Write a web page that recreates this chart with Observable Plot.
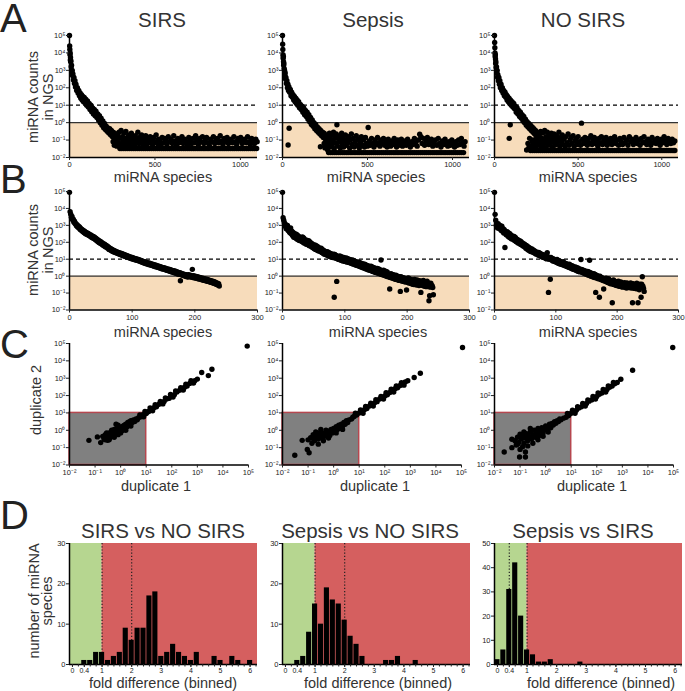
<!DOCTYPE html>
<html><head><meta charset="utf-8">
<script src="https://cdn.jsdelivr.net/npm/d3@7"></script>
<script src="https://cdn.jsdelivr.net/npm/@observablehq/plot@0.6"></script>
<style>
body{margin:0;background:#fff;}
#fig{position:relative;width:685px;height:691px;overflow:hidden;background:#fff;}
</style></head><body><div id="fig"></div>
<script>
// ---------------- DATA ----------------
const groups = ["SIRS", "Sepsis", "NO SIRS"];
const comparisons = ["SIRS vs NO SIRS", "Sepsis vs NO SIRS", "Sepsis vs SIRS"];

// Row A: all miRNA species, [rank, log10 count]
const sirsA_curve = [[0,5.0],[1,4.4],[2,4.2],[3,3.9],[4,4.0],[5,3.6],[6,3.74],[7,3.5],[8,3.55],[10,3.2],[12,3.3],[14,2.9],[16,3.0],[18,2.7],[20,2.8],[23,2.45],[26,2.6],[29,2.25],[32,2.4],[35,2.05],[38,2.2],[42,1.85],[46,2.0],[50,1.7],[54,1.85],[58,1.55],[62,1.7],[66,1.4],[70,1.6],[74,1.3],[78,1.5],[82,1.2],[86,1.45],[90,1.15],[95,1.35],[100,1.0],[105,1.25],[110,0.9],[115,1.1],[120,0.75],[125,1.0],[130,0.62],[135,0.85],[140,0.5],[145,0.75],[150,0.4],[155,0.65],[160,0.3],[165,0.5],[170,0.15],[175,0.4],[180,0.0],[185,0.25],[190,-0.15],[195,0.1],[200,-0.3],[205,-0.05],[210,-0.4],[215,-0.2],[220,-0.5],[225,-0.3],[230,-0.6],[235,-0.35],[240,-0.7],[245,-0.45],[250,-0.8],[255,-0.55],[260,-0.9],[265,-0.6],[270,-1.0],[275,-0.7],[280,-1.1],[255,-1.1],[262,-1.3],[270,-0.95],[276,-1.35]];
const sirsA_tail = [[282,-0.75],[286,-1.15],[290,-0.55],[294,-1.3],[298,-0.9],[302,-0.45],[306,-1.2],[310,-0.8],[314,-1.05],[318,-0.6],[322,-1.35],[326,-0.95],[330,-0.5],[334,-1.15],[338,-0.85],[342,-1.3],[346,-0.7],[350,-1.05],[354,-0.9],[358,-1.25],[362,-0.6],[366,-1.1],[370,-0.8],[375,-1.0],[380,-1.3],[385,-0.75],[390,-1.15],[395,-0.95],[400,-0.55],[405,-1.2],[410,-0.85],[416,-1.05],[422,-0.7],[428,-1.25],[434,-0.9],[440,-1.1],[446,-0.75],[452,-1.3],[458,-0.95],[465,-1.15],[472,-0.8],[479,-1.0],[486,-1.25],[493,-0.85],[500,-1.1],[507,-0.7],[514,-1.2],[521,-0.95],[528,-1.05],[535,-1.3],[542,-0.85],[549,-1.15],[556,-0.9],[563,-1.0],[570,-1.25],[578,-0.8],[586,-1.1],[594,-0.95],[602,-1.2],[610,-0.75],[618,-1.05],[626,-1.3],[634,-0.9],[642,-1.15],[650,-1.0],[658,-0.8],[666,-1.2],[674,-0.95],[682,-1.1],[690,-1.3],[698,-0.85],[706,-1.05],[714,-1.2],[722,-0.9],[730,-1.15],[738,-0.75],[746,-1.0],[754,-1.25],[762,-0.9],[770,-1.1],[778,-0.8],[786,-1.2],[794,-1.0],[802,-0.85],[810,-1.15],[818,-1.3],[826,-0.95],[834,-1.1],[842,-0.8],[850,-1.2],[858,-1.0],[866,-0.9],[874,-1.15],[882,-0.75],[890,-1.05],[898,-1.25],[906,-0.9],[914,-1.1],[922,-0.85],[930,-1.2],[938,-1.0],[946,-0.95],[954,-1.15],[962,-0.8],[970,-1.1],[978,-1.25],[986,-0.9],[994,-1.05],[1002,-0.85],[1010,-1.2],[1018,-1.0],[1026,-0.95],[1034,-1.15],[1042,-0.8],[1050,-1.1],[1058,-1.25],[1066,-0.9],[1074,-1.05],[1082,-1.2],[1090,-0.95],[1098,-1.1]];
const sirsA_floorLog = -1.48;
const sirsA_floorRanks = [295,306,318,329,341,352,364,376,387,399,410,422,434,445,457,468,480,492,503,515,526,538,550,561,573,584,596,608,619,631,642,654,666,677,689,700,712,724,735,747,758,770,782,793,805,816,828,840,851,863,874,886,898,909,921,932,944,956,967,979,990,1002,1014,1025,1037,1048,1060,1072,1083,1095];

const sepsisA_curve = [[0,5.0],[1,4.5],[2,4.2],[3,3.9],[4,3.7],[5,3.8],[6,3.5],[7,3.3],[8,3.4],[10,3.1],[12,3.0],[14,2.7],[16,2.85],[18,2.5],[20,2.6],[23,2.25],[26,2.4],[29,2.0],[32,2.2],[33,-1.28],[35,1.85],[38,2.05],[39,-0.32],[42,1.75],[46,1.9],[50,1.55],[54,1.75],[58,1.45],[62,1.6],[66,1.3],[70,1.5],[74,1.2],[78,1.4],[82,1.1],[86,1.3],[90,1.0],[95,1.2],[100,0.85],[105,1.05],[110,0.75],[115,0.95],[120,0.6],[125,0.85],[130,0.45],[135,0.7],[140,0.35],[145,0.6],[150,0.2],[155,0.45],[160,0.05],[165,0.3],[170,-0.1],[175,0.15],[180,-0.2],[185,0.0],[190,-0.35],[195,-0.1],[200,-0.45],[205,-0.25],[210,-0.55],[215,-0.35],[220,-0.65],[223,-1.38],[225,-0.45],[230,-0.75],[235,-0.55],[240,-0.85],[245,-0.6],[250,-0.9],[255,-0.7],[260,-1.0],[265,-0.75],[245,-1.2],[250,-1.45],[255,-1.0],[260,-1.3],[265,-1.55]];
const sepsisA_tail = [[268,-0.8],[272,-1.2],[276,-0.6],[280,-1.4],[284,-0.95],[288,-0.7],[292,-1.3],[296,-1.05],[300,-0.55],[304,-1.5],[308,-0.85],[312,-1.15],[316,-0.65],[320,-0.12],[324,-1.35],[328,-0.9],[332,-1.1],[336,-0.75],[340,-1.45],[344,-1.0],[348,-0.6],[352,-1.25],[356,-0.85],[360,-1.4],[365,-1.05],[370,-0.7],[375,-1.3],[380,-0.95],[385,-1.15],[390,-0.8],[395,-1.45],[400,-1.0],[405,-0.65],[410,-1.25],[416,-0.9],[422,-1.4],[428,-1.1],[434,-0.75],[440,-1.3],[446,-0.95],[452,-1.45],[458,-1.15],[464,-0.8],[470,-1.3],[476,-1.0],[482,-1.4],[488,-0.85],[494,-1.2],[500,-1.35],[504,-0.28],[510,-1.05],[517,-1.3],[524,-0.9],[531,-1.2],[538,-1.4],[545,-1.0],[552,-1.25],[559,-0.85],[566,-1.15],[573,-1.35],[580,-1.0],[587,-1.2],[594,-0.9],[601,-1.3],[608,-1.1],[615,-1.4],[622,-0.95],[629,-1.2],[636,-1.35],[643,-1.05],[650,-1.25],[657,-0.9],[664,-1.15],[671,-1.4],[678,-1.0],[685,-1.3],[692,-1.1],[699,-0.95],[706,-1.35],[713,-1.2],[720,-1.05],[728,-1.3],[736,-0.95],[744,-1.2],[752,-1.4],[760,-1.1],[768,-1.25],[776,-0.9],[784,-1.15],[792,-1.35],[800,-1.0],[807,-0.67],[814,-0.8],[821,-1.2],[828,-0.9],[836,-1.3],[844,-1.05],[852,-0.85],[860,-1.25],[868,-1.1],[876,-0.95],[884,-1.35],[892,-1.15],[900,-1.0],[908,-1.3],[916,-0.9],[924,-1.2],[932,-1.4],[940,-1.05],[948,-1.25],[956,-0.95],[964,-1.15],[972,-1.35],[980,-1.1],[988,-1.3],[996,-1.0],[1004,-1.2],[1012,-1.4],[1020,-1.1],[1028,-1.3],[1036,-1.0],[1044,-1.25],[1052,-0.9],[1060,-1.15],[1068,-1.35],[1074,-1.1]];
const sepsisA_floorLog = -1.72;
const sepsisA_floorRanks = [271,283,294,306,317,329,340,352,363,375,386,398,409,421,432,444,455,467,478,490,501,513,524,536,547,559,570,582,593,605,616,628,639,651,662,674,685,697,708,720,731,743,754,766,777,789,800,812,823,835,846,858,869,881,892,904,915,927,938,950,961,973,984,996,1007,1019,1030,1042,1053,1065];

const nosirsA_curve = [[0,5.0],[1,4.6],[2,4.3],[3,4.0],[4,3.8],[5,3.9],[6,3.65],[7,3.4],[8,3.5],[10,3.16],[12,3.2],[14,2.85],[16,3.0],[18,2.6],[20,2.75],[23,2.4],[26,2.6],[29,2.2],[32,2.4],[35,2.0],[39,2.2],[43,1.85],[47,2.0],[51,1.7],[55,1.85],[59,1.55],[63,1.75],[67,1.45],[71,1.6],[75,1.3],[79,1.5],[83,1.2],[87,1.4],[88,-0.9],[91,1.1],[94,-0.12],[95,1.3],[100,1.0],[105,1.2],[110,0.9],[115,1.1],[120,0.8],[125,0.95],[130,0.6],[135,0.85],[140,0.5],[145,0.7],[150,0.35],[155,0.6],[160,0.25],[165,0.45],[170,0.1],[175,0.35],[180,0.0],[185,0.2],[190,-0.15],[192,-1.57],[195,0.05],[200,-0.25],[205,-0.05],[210,-0.35],[215,-0.15],[220,-0.45],[225,-0.25],[230,-0.55],[235,-0.35],[240,-0.65],[245,-0.45],[250,-0.75],[255,-0.55],[260,-0.85],[265,-0.6],[200,-1.2],[205,-1.45],[210,-0.9],[220,-1.35],[225,-1.1],[230,-1.0],[240,-1.25],[245,-1.4],[250,-0.95],[255,-1.15],[260,-1.3]];
const nosirsA_tail = [[268,-0.7],[272,-1.1],[276,-0.5],[280,-1.35],[284,-0.9],[288,-0.6],[292,-1.25],[296,-1.0],[300,-0.45],[304,-1.45],[308,-0.8],[312,-1.15],[316,-0.55],[320,-1.3],[324,-0.95],[328,-0.7],[332,-1.2],[336,-1.05],[340,-0.6],[344,-1.4],[348,-0.85],[352,-1.1],[356,-0.65],[360,-1.3],[365,-0.95],[370,-0.75],[375,-1.2],[380,-1.0],[385,-0.55],[390,-1.35],[395,-0.85],[400,-1.1],[405,-0.7],[410,-1.25],[416,-0.95],[422,-1.4],[428,-0.8],[434,-1.15],[440,-0.65],[446,-1.3],[452,-1.0],[458,-0.85],[464,-1.2],[470,-0.75],[476,-1.35],[482,-1.05],[488,-0.9],[494,-1.25],[500,-0.8],[507,-1.1],[514,-1.3],[520,-0.03],[527,-0.95],[534,-1.2],[541,-0.85],[548,-1.05],[555,-1.3],[562,-0.9],[569,-1.15],[576,-0.75],[583,-1.25],[590,-1.0],[597,-0.85],[604,-1.2],[611,-1.05],[618,-1.35],[625,-0.9],[632,-1.15],[639,-0.8],[646,-1.25],[653,-1.0],[660,-1.1],[667,-0.85],[674,-1.3],[681,-1.0],[688,-1.15],[695,-0.9],[702,-1.25],[710,-1.05],[718,-0.8],[726,-1.2],[734,-1.0],[742,-1.3],[750,-0.9],[758,-1.1],[766,-1.25],[774,-0.85],[782,-1.15],[790,-1.0],[798,-1.3],[806,-0.8],[814,-1.1],[822,-0.95],[830,-1.25],[838,-1.05],[846,-0.85],[854,-1.2],[862,-1.0],[870,-1.3],[878,-0.9],[886,-1.15],[894,-0.8],[902,-1.1],[910,-1.25],[918,-0.95],[926,-1.05],[934,-1.3],[942,-0.85],[950,-1.15],[958,-1.0],[966,-1.2],[974,-0.9],[982,-1.1],[990,-1.3],[998,-0.95],[1006,-1.15],[1014,-0.8],[1022,-1.05],[1030,-1.25],[1038,-0.9],[1046,-1.1],[1054,-1.2],[1062,-0.95],[1070,-1.15],[1078,-1.05]];
const nosirsA_floorLog = -1.60;
const nosirsA_floorRanks = [215,227,239,251,263,275,287,299,311,323,335,347,359,371,383,395,407,419,431,443,455,467,479,491,503,515,527,539,551,563,575,587,599,611,623,635,647,659,671,683,695,707,719,731,743,755,767,779,791,803,815,827,839,851,863,875,887,899,911,923,935,947,959,971,983,995,1007,1019,1031,1043,1055,1067,1078];

// Row B: detected miRNA species, log10 count by rank (index = rank)
const sirsB = [4.95,3.80,3.66,3.48,3.52,3.33,3.37,3.18,3.24,3.10,
3.12,2.98,3.04,2.90,2.96,2.84,2.90,2.76,2.82,2.70,
2.76,2.64,2.70,2.58,2.65,2.52,2.60,2.48,2.55,2.44,
2.52,2.40,2.47,2.36,2.43,2.30,2.38,2.26,2.34,2.22,
2.30,2.16,2.24,2.10,2.18,2.04,2.13,1.99,2.08,1.95,
2.03,1.90,1.97,1.84,1.92,1.80,1.88,1.74,1.83,1.70,
1.78,1.65,1.72,1.58,1.66,1.54,1.62,1.50,1.57,1.46,
1.53,1.43,1.50,1.40,1.46,1.36,1.43,1.33,1.40,1.31,
1.37,1.28,1.35,1.25,1.32,1.22,1.29,1.19,1.26,1.16,
1.24,1.14,1.21,1.11,1.18,1.08,1.15,1.06,1.12,1.03,
1.10,1.01,1.08,0.99,1.05,0.96,1.03,0.94,1.00,0.92,
0.98,0.89,0.95,0.86,0.92,0.83,0.90,0.80,0.87,0.78,
0.85,0.75,0.83,0.73,0.80,0.70,0.78,0.68,0.76,0.66,
0.74,0.64,0.71,0.61,0.69,0.59,0.66,0.56,0.64,0.54,
0.62,0.52,0.59,0.49,0.57,0.47,0.55,0.44,0.52,0.42,
0.50,0.40,0.48,0.38,0.45,0.35,0.43,0.33,0.41,0.30,
0.39,0.28,0.36,0.25,0.34,0.23,0.32,0.20,0.30,0.18,
0.27,0.16,0.25,0.13,0.22,0.11,0.20,-0.27,0.17,0.07,
0.15,0.05,0.12,0.02,0.10,0.00,0.08,-0.03,0.05,-0.05,
0.08,-0.02,0.06,-0.04,0.04,-0.06,0.40,-0.08,0.02,-0.10,
0.00,-0.11,-0.02,-0.13,-0.04,-0.15,-0.06,-0.17,-0.08,-0.19,
-0.10,-0.21,-0.12,-0.23,-0.14,-0.25,-0.16,-0.27,-0.18,-0.29,
-0.20,-0.31,-0.22,-0.33,-0.25,-0.36,-0.27,-0.38,-0.30,-0.41,
-0.32,-0.43,-0.35,-0.46,-0.38,-0.49,-0.41,-0.52,-0.45,-0.58];
const sepsisB = [4.95,3.45,3.30,3.16,2.95,3.05,2.80,2.86,3.00,2.70,
2.80,2.62,2.57,2.85,2.50,2.66,2.40,2.58,2.30,2.52,
2.37,2.25,2.48,2.20,2.42,2.15,2.35,2.10,2.30,2.22,
2.18,2.05,2.32,2.00,2.25,1.95,2.15,2.05,1.88,2.12,
1.98,1.85,2.10,1.80,2.02,1.78,1.95,1.72,1.90,1.68,
1.78,1.62,1.85,1.58,1.80,1.55,1.75,1.50,1.70,1.48,
1.59,1.45,1.65,1.40,1.58,1.35,1.52,1.30,1.48,1.28,
1.39,1.25,1.45,1.22,1.40,1.18,1.35,1.15,1.32,1.12,
1.25,1.10,1.30,-1.25,1.28,1.05,1.22,-0.31,1.18,1.00,
1.14,0.98,1.20,0.95,1.15,0.92,1.12,0.90,1.10,0.88,
1.06,0.86,1.08,0.84,1.05,0.82,1.00,0.80,0.98,0.78,
0.94,0.75,0.96,0.72,0.92,0.70,0.88,0.66,0.85,0.64,
0.80,0.62,0.84,0.58,0.80,0.56,0.76,0.52,0.74,0.50,
0.71,0.48,0.70,0.44,0.66,0.42,0.62,0.38,0.60,0.36,
0.51,0.34,0.58,0.30,0.55,0.28,0.50,0.25,0.48,0.22,
0.41,0.20,0.45,0.18,0.42,0.15,0.40,0.12,0.95,0.10,
0.31,0.08,0.35,0.05,0.30,0.02,0.28,0.00,0.25,-0.03,
0.12,-0.05,-0.76,-0.08,0.15,-0.10,0.10,-0.12,0.08,-0.15,
0.02,-0.18,0.05,-0.20,0.00,-0.22,-0.02,-0.25,-0.05,-0.90,
-0.04,-0.28,-0.08,-0.30,-0.10,-0.32,-0.12,-0.35,-0.15,-0.82,
-0.14,-0.38,-0.10,-0.40,-0.18,-0.42,-0.20,-0.45,-0.22,-0.48,
-0.24,-0.50,-0.20,-0.46,-0.26,-0.52,-0.22,-0.48,-0.28,-0.55,
-0.27,-0.52,-0.96,-0.50,-0.30,-0.55,-0.25,-0.58,-0.32,-0.60,
-0.37,-0.62,-0.30,-0.58,-0.40,-1.45,-1.16,-0.65,-0.42,-0.55,
-0.57,-0.67,-1.10];
const nosirsB = [4.95,3.65,3.30,3.00,3.06,2.85,3.10,2.95,2.80,3.00,
2.86,2.70,2.95,2.65,2.80,2.55,2.75,1.69,2.60,2.45,
2.47,2.62,2.35,2.55,2.30,2.50,2.25,2.42,2.20,2.38,
2.27,2.15,2.35,2.10,2.28,2.05,2.20,2.00,2.15,1.95,
1.98,2.10,1.88,2.05,1.85,1.98,1.80,1.92,1.75,1.88,
1.78,1.65,1.82,1.60,1.75,1.55,1.70,1.50,1.65,1.45,
1.49,1.60,1.42,1.55,1.38,1.50,1.35,1.45,1.30,1.42,
1.33,1.25,1.40,1.22,1.35,1.20,1.30,1.15,1.28,1.12,
1.20,1.10,1.25,1.05,1.22,1.02,1.39,1.15,-0.96,1.00,
1.06,-0.18,1.10,0.95,1.05,0.90,1.02,0.88,0.98,0.85,
0.94,0.82,0.98,0.78,0.92,0.75,0.90,0.72,0.85,0.70,
0.80,0.68,0.85,0.65,0.78,0.62,0.75,0.58,0.72,0.55,
0.67,0.52,0.70,0.50,0.65,0.46,0.62,0.42,0.58,0.40,
0.51,0.38,0.55,0.35,0.50,0.30,0.48,0.28,0.44,0.25,
0.35,0.98,0.40,0.22,0.36,0.18,0.32,0.15,0.30,0.12,
0.22,0.10,0.28,0.05,0.25,0.94,0.20,0.00,0.18,-0.02,
0.12,-0.05,0.15,-0.08,0.10,-0.96,0.05,-0.12,0.02,-0.15,
-0.04,-1.25,0.00,-0.20,-0.08,-0.22,-0.10,-0.25,-0.76,-0.28,
-0.18,-0.30,-0.12,-0.35,-0.20,-0.38,-0.15,-0.40,-0.25,-0.45,
-0.27,-0.42,-1.57,-0.48,-0.22,-0.50,-0.30,-0.52,-0.35,-0.55,
-0.37,-0.55,-0.30,-0.60,-0.40,-0.58,-0.35,-0.62,-0.42,-0.65,
-0.43,-0.60,-0.38,-0.65,-0.45,-0.70,-0.40,-0.62,-0.48,-0.68,
-0.47,-0.65,-0.40,-0.70,-0.50,-1.57,-0.45,-0.72,-0.52,-0.68,
-0.51,-0.75,-0.42,-0.70,-1.57,-0.55,-0.80,-0.48,-0.65,-1.25,
-0.47,-0.04,-0.60,-0.72,-0.90];

// Row C: duplicate 1 vs duplicate 2, [log10 dup1, log10 dup2]
const sirsC = [[-1.24,-0.58],[-0.91,-0.38],[-0.78,-0.71],[-0.51,-0.58],[-0.7,-0.35],[-0.65,-0.5],[-0.6,-0.25],[-0.55,-0.4],[-0.5,-0.3],[-0.45,-0.15],[-0.42,-0.45],[-0.4,-0.2],[-0.35,-0.35],[-0.3,-0.1],[-0.28,-0.3],[-0.25,0.05],[-0.2,-0.2],[-0.18,0.35],[-0.15,-0.05],[-0.1,-0.25],[-0.08,0.1],[-0.05,-0.1],[0.0,0.15],[0.02,-0.05],[0.05,0.2],[0.08,0.0],[0.1,0.25],[0.12,0.05],[0.15,0.3],[0.18,0.15],[0.2,0.35],[0.25,0.2],[0.28,0.45],[0.3,0.3],[0.35,0.5],[0.38,0.35],[0.4,0.55],[0.45,0.45],[0.5,0.6],[0.55,0.5],[0.6,0.65],[-0.55,-0.15],[-0.35,0.0],[-0.15,0.1],[0.0,-0.15],[-0.6,-0.55],[-0.45,-0.55],[-0.25,-0.4],[-0.1,0.3],[0.2,0.0],[0.4,0.25],
[0.65,0.6],[0.7,0.72],[0.8,0.78],[0.85,0.88],[0.9,0.9],[1.0,0.96],[1.05,1.05],[1.1,1.08],[1.2,1.15],[1.3,1.3],[1.4,1.35],[1.5,1.5],[1.6,1.58],[1.7,1.66],[1.8,1.8],[1.9,1.85],[2.0,1.98],[2.1,2.05],[2.2,2.2],[2.3,2.3],[2.4,2.35],[2.5,2.48],[2.6,2.55],[2.7,2.7],[2.8,2.75],[2.9,2.85],[3.0,2.95],
[0.75,0.88],[0.95,1.08],[1.15,1.28],[1.35,1.47],[1.55,1.66],[1.75,1.87],[1.95,2.06],[2.15,2.27],[2.35,2.46],[2.55,2.66],[2.75,2.85],[0.9,0.78],[1.25,1.12],[1.65,1.52],[2.05,1.92],[2.45,2.32],[2.85,2.72],
[3.17,3.33],[3.43,3.15],[3.57,3.52],[4.95,4.85]];
const sepsisC = [[-1.52,-1.44],[-1.23,-0.58],[-1.03,-1.1],[-0.96,-1.29],[-0.9,-0.42],[-1.0,-0.55],[-0.85,-0.75],[-0.85,-0.45],[-0.8,-0.25],[-0.75,-0.6],[-0.7,-0.35],[-0.65,-0.15],[-0.6,-0.5],[-0.55,-0.3],[-0.5,-0.1],[-0.45,-0.45],[-0.4,-0.2],[-0.35,-0.35],[-0.3,0.0],[-0.25,-0.25],[-0.2,-0.05],[-0.15,-0.3],[-0.1,0.05],[-0.05,-0.15],[0.0,0.1],[0.05,-0.05],[0.1,0.2],[0.15,0.05],[0.2,0.3],[0.25,0.15],[0.3,0.35],[0.35,0.25],[0.4,0.45],[0.45,0.35],[0.5,0.55],[0.55,0.45],[0.6,0.6],[0.7,0.65],[0.75,0.75],[0.8,0.8],[-0.6,-0.8],[-0.4,-0.6],[-0.7,-0.1],[-0.5,0.05],[-0.2,-0.45],[0.1,-0.15],[0.35,0.05],
[0.9,0.88],[1.0,1.0],[1.1,1.05],[1.2,1.18],[1.3,1.25],[1.4,1.4],[1.5,1.45],[1.6,1.58],[1.7,1.65],[1.8,1.8],[1.9,1.85],[2.0,1.98],[2.1,2.05],[2.2,2.18],[2.3,2.25],[2.4,2.4],[2.5,2.45],[2.6,2.58],[2.7,2.65],[2.8,2.78],[2.9,2.85],
[0.85,0.98],[1.05,1.17],[1.25,1.37],[1.45,1.56],[1.65,1.76],[1.85,1.95],[2.05,2.16],[2.25,2.36],[2.45,2.55],[2.65,2.74],[1.15,0.98],[1.55,1.4],[1.95,1.8],[2.35,2.2],[2.75,2.6],
[3.15,3.04],[3.39,3.29],[5.04,4.77]];
const nosirsC = [[-1.62,-1.25],[-1.32,-0.52],[-1.32,-1.0],[-1.02,-1.54],[-0.79,-1.54],[-0.79,-1.25],[-1.0,-0.23],[-1.1,-0.8],[-1.0,-1.1],[-0.9,-0.95],[-1.2,-0.6],[-1.15,-0.85],[-1.1,-0.4],[-1.05,-0.7],[-0.95,-0.5],[-0.9,-0.3],[-0.85,-0.75],[-0.8,-0.45],[-0.75,-0.2],[-0.7,-0.6],[-0.65,-0.35],[-0.6,-0.1],[-0.55,-0.5],[-0.5,-0.25],[-0.45,0.0],[-0.4,-0.4],[-0.35,-0.15],[-0.3,0.1],[-0.25,-0.3],[-0.2,-0.05],[-0.15,0.15],[-0.1,-0.15],[-0.05,0.05],[0.0,0.25],[0.05,0.0],[0.1,0.2],[0.15,0.35],[0.2,0.15],[0.25,0.4],[0.3,0.3],[0.35,0.5],[0.4,0.4],[0.45,0.55],[0.5,0.5],[0.55,0.65],[0.6,0.6],[0.7,0.7],[0.8,0.75],[-0.7,-0.9],[-0.5,-0.75],[-0.3,-0.55],[-0.1,-0.35],[0.1,-0.1],[-0.85,-0.1],[-0.6,0.1],
[0.9,0.85],[1.0,0.98],[1.1,1.05],[1.2,1.15],[1.3,1.28],[1.4,1.35],[1.5,1.48],[1.6,1.55],[1.7,1.68],[1.8,1.75],[1.9,1.88],[2.0,1.95],[2.1,2.08],[2.2,2.15],[2.3,2.28],[2.4,2.35],[2.5,2.48],[2.6,2.55],[2.7,2.68],[2.8,2.75],
[0.85,0.97],[1.05,1.16],[1.25,1.36],[1.45,1.55],[1.65,1.75],[1.85,1.95],[2.05,2.15],[2.25,2.35],[2.45,2.55],[2.65,2.75],[1.15,0.98],[1.55,1.4],[1.95,1.8],[2.35,2.2],
[2.94,2.94],[3.4,3.46],[4.97,4.77]];

// Row D: histograms of fold differences (bin centres, counts)
const binWidth = 0.2;
const sirsVsNo_centers = [0.4,0.6,0.8,1.0,1.2,1.4,1.6,1.8,2.0,2.2,2.4,2.6,2.8,3.0,3.2,3.4,3.6,3.8,4.0,4.2,4.8,5.0,5.4,5.6,6.0];
const sirsVsNo_counts  = [1,1,3,3,1,2,3,9,6,9,9,17,18,2,3,5,3,2,1,3,2,1,2,1,1];
const sepsisVsNo_centers = [0.4,0.6,0.8,1.0,1.2,1.4,1.6,1.8,2.0,2.2,2.4,2.6,3.4,3.6,3.8,4.4];
const sepsisVsNo_counts  = [1,2,8,15,10,19,16,15,11,7,5,2,1,1,2,1];
const sepsisVsSirs_centers = [0.0,0.2,0.4,0.6,0.8,1.0,1.2,1.4,1.6,1.8,2.8];
const sepsisVsSirs_counts  = [2,6,31,42,20,6,4,1,1,2,1];
const dOuterLines = [[1,2],[1,2],[0.4,1]];
const dGreenLimit = 1;
const dYMax = [30, 30, 50];
const dYTicks = [[0,10,20,30],[0,10,20,30],[0,10,20,30,40,50]];
const dXLabels = [0,0.4,1,2,3,4,5,6];

// thresholds / tick sets
const countDashed = 10, countSolid = 1;
const logTicks = [1e-2,1e-1,1,10,1e2,1e3,1e4,1e5];

// ---------------- STYLE / LAYOUT ----------------
const FONT = '"Liberation Sans", Arial, Helvetica, sans-serif';
const PEACH = "#f7dcbb", GREEN = "#b6d690", RED = "#d55f5f", GREY = "#808080", BOXRED = "#b5474f";
const colLeft = [69, 282, 494];
const fig = document.getElementById("fig");
const ML = 30, MR = 10, MT = 10, MB = 20;
const SUP = {"-":"⁻","0":"⁰","1":"¹","2":"²","3":"³","4":"⁴","5":"⁵","6":"⁶","7":"⁷","8":"⁸","9":"⁹"};
const pow10 = d => "10" + String(Math.round(Math.log10(d))).split("").map(c => SUP[c]).join("");
const plain = d => String(d);

function panel(left, top, w, h, opts) {
  const p = Plot.plot(Object.assign({
    width: w + ML + MR, height: h + MT + MB,
    marginLeft: ML, marginRight: MR, marginTop: MT, marginBottom: MB,
    style: {fontFamily: FONT, fontSize: "7.5px", color: "#222", background: "transparent", overflow: "visible"}
  }, opts));
  p.style.position = "absolute";
  p.style.left = (left - ML) + "px";
  p.style.top = (top - MT) + "px";
  fig.appendChild(p);
}
const dotOpts = {r: 2.7, fill: "#000", stroke: "none"};
const axisLineOpts = {stroke: "#000", strokeWidth: 1.5};
const abWidth = [188, 187, 184];

// Row A
const aCurves = [sirsA_curve, sepsisA_curve, nosirsA_curve];
const aTails = [sirsA_tail, sepsisA_tail, nosirsA_tail];
const aFloorLog = [sirsA_floorLog, sepsisA_floorLog, nosirsA_floorLog];
const aFloorRanks = [sirsA_floorRanks, sepsisA_floorRanks, nosirsA_floorRanks];
for (let i = 0; i < 3; i++) {
  const pts = aCurves[i].concat(aTails[i]).map(([r, l]) => ({rank: r, count: 10 ** l}))
    .concat(aFloorRanks[i].map(r => ({rank: r, count: 10 ** aFloorLog[i]})));
  panel(colLeft[i], 35, abWidth[i], 122, {
    x: {domain: [0, 1100]},
    y: {type: "log", domain: [0.01, 1e5]},
    marks: [
      Plot.rect([{x1: 0, x2: 1100, y1: 0.01, y2: countSolid}], {x1: "x1", x2: "x2", y1: "y1", y2: "y2", fill: PEACH}),
      Plot.ruleY([countDashed], {stroke: "#000", strokeWidth: 1.2, strokeDasharray: "4,3"}),
      Plot.ruleY([countSolid], {stroke: "#333", strokeWidth: 1.2}),
      Plot.dot(pts, {x: "rank", y: "count", ...dotOpts}),
      Plot.ruleX([0], axisLineOpts),
      Plot.ruleY([0.01], axisLineOpts),
      Plot.axisX({ticks: [0, 500, 1000], tickFormat: plain, tickSize: 3, tickPadding: 1.5, label: null}),
      Plot.axisY({ticks: logTicks, tickFormat: pow10, tickSize: 3, tickPadding: 1, label: null})
    ]
  });
}

// Row B
const bData = [sirsB, sepsisB, nosirsB];
for (let i = 0; i < 3; i++) {
  const pts = bData[i].map((l, r) => ({rank: r, count: 10 ** l}));
  panel(colLeft[i], 190.5, abWidth[i], 118.5, {
    x: {domain: [0, 300]},
    y: {type: "log", domain: [0.01, 1e5]},
    marks: [
      Plot.rect([{x1: 0, x2: 300, y1: 0.01, y2: countSolid}], {x1: "x1", x2: "x2", y1: "y1", y2: "y2", fill: PEACH}),
      Plot.ruleY([countDashed], {stroke: "#000", strokeWidth: 1.2, strokeDasharray: "4,3"}),
      Plot.ruleY([countSolid], {stroke: "#333", strokeWidth: 1.2}),
      Plot.dot(pts, {x: "rank", y: "count", ...dotOpts}),
      Plot.ruleX([0], axisLineOpts),
      Plot.ruleY([0.01], axisLineOpts),
      Plot.axisX({ticks: [0, 100, 200, 300], tickFormat: plain, tickSize: 3, tickPadding: 1.5, label: null}),
      Plot.axisY({ticks: logTicks, tickFormat: pow10, tickSize: 3, tickPadding: 1, label: null})
    ]
  });
}

// Row C
const cData = [sirsC, sepsisC, nosirsC];
for (let i = 0; i < 3; i++) {
  const pts = cData[i].map(([a, b]) => ({d1: 10 ** a, d2: 10 ** b}));
  panel(colLeft[i], 342.5, 179, 121.5, {
    x: {type: "log", domain: [0.01, 1e5]},
    y: {type: "log", domain: [0.01, 1e5]},
    marks: [
      Plot.rect([{x1: 0.01, x2: countDashed, y1: 0.01, y2: countDashed}], {x1: "x1", x2: "x2", y1: "y1", y2: "y2", fill: GREY, stroke: BOXRED, strokeWidth: 1.5}),
      Plot.dot(pts, {x: "d1", y: "d2", ...dotOpts}),
      Plot.ruleX([0.01], axisLineOpts),
      Plot.ruleY([0.01], axisLineOpts),
      Plot.axisX({ticks: logTicks, tickFormat: pow10, tickSize: 3, tickPadding: 1.5, label: null}),
      Plot.axisY({ticks: logTicks, tickFormat: pow10, tickSize: 3, tickPadding: 1, label: null})
    ]
  });
}

// Row D
const dCenters = [sirsVsNo_centers, sepsisVsNo_centers, sepsisVsSirs_centers];
const dCounts = [sirsVsNo_counts, sepsisVsNo_counts, sepsisVsSirs_counts];
const minorTicks = d3.range(0, 6.21, 0.2);
for (let i = 0; i < 3; i++) {
  const bins = dCenters[i].map((c, k) => ({c, n: dCounts[i][k]}));
  const ymax = dYMax[i];
  panel(colLeft[i], 543, 188, 121, {
    x: {domain: [-0.1, 6.25]},
    y: {domain: [0, ymax]},
    marks: [
      Plot.rect([{x1: -0.1, x2: dGreenLimit, y1: 0, y2: ymax}], {x1: "x1", x2: "x2", y1: "y1", y2: "y2", fill: GREEN}),
      Plot.rect([{x1: dGreenLimit, x2: 6.25, y1: 0, y2: ymax}], {x1: "x1", x2: "x2", y1: "y1", y2: "y2", fill: RED}),
      Plot.ruleX(dOuterLines[i], {stroke: "#222", strokeWidth: 1.2, strokeDasharray: "1.2,2"}),
      Plot.rect(bins, {x1: d => d.c - binWidth / 2, x2: d => d.c + binWidth / 2, y1: () => 0, y2: "n", fill: "#000", insetLeft: 0.4, insetRight: 0.4}),
      Plot.ruleX([-0.1], axisLineOpts),
      Plot.ruleY([0], axisLineOpts),
      Plot.axisX({ticks: minorTicks, tickSize: 2.5, tickFormat: () => "", label: null}),
      Plot.axisX({ticks: dXLabels, tickSize: 3, tickPadding: 0.5, tickFormat: plain, label: null, fontSize: 7}),
      Plot.axisY({ticks: dYTicks[i], tickSize: 3, tickPadding: 1, label: null})
    ]
  });
}

// ---------------- TEXT OVERLAY ----------------
const ov = d3.select(fig).append("svg")
  .attr("width", 685).attr("height", 691)
  .style("position", "absolute").style("left", "0px").style("top", "0px")
  .style("pointer-events", "none")
  .attr("font-family", FONT);
function txt(s, x, y, size, fill = "#333", anchor = "middle", rotate = false) {
  const t = ov.append("text").text(s).attr("font-size", size).attr("fill", fill).attr("text-anchor", anchor);
  if (rotate) t.attr("transform", `translate(${x},${y}) rotate(-90)`);
  else t.attr("x", x).attr("y", y);
}
// panel letters
[["A", 32], ["B", 193], ["C", 357.5], ["D", 528.5]].forEach(([s, y]) => txt(s, 0, y, 40, "#222", "start"));
// titles
const titleX = [162, 373, 583];
groups.forEach((g, i) => txt(g, titleX[i], 27, 20.5));
const dTitleX = [163, 370, 583];
comparisons.forEach((g, i) => txt(g, dTitleX[i], 538, 20.5));
// x labels
[163, 376, 588].forEach(x => txt("miRNA species", x, 182, 14.5));
[163, 378, 588].forEach(x => txt("miRNA species", x, 336.5, 14.5));
[156, 375, 592].forEach(x => txt("duplicate 1", x, 491, 14.5));
[163, 378, 601].forEach(x => txt("fold difference (binned)", x, 688, 14.5));
// y labels
txt("miRNA counts", 37.5, 97, 14.5, "#333", "middle", true);
txt("in NGS", 52.5, 97, 14.5, "#333", "middle", true);
txt("miRNA counts", 37.5, 250, 14.5, "#333", "middle", true);
txt("in NGS", 52.5, 250, 14.5, "#333", "middle", true);
txt("duplicate 2", 40.5, 400, 14.5, "#333", "middle", true);
txt("number of miRNA", 39, 601, 14.5, "#333", "middle", true);
txt("species", 51.5, 601, 14.5, "#333", "middle", true);
</script></body></html>
